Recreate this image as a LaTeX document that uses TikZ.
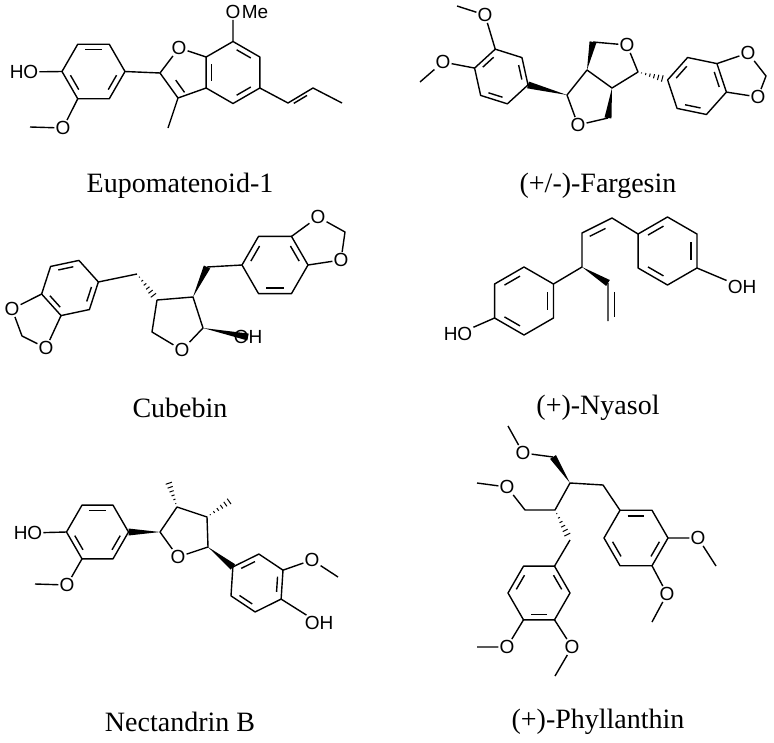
\documentclass[tikz,border=0pt]{standalone}
\usepackage{fontspec}
\setmainfont{Liberation Serif}
\newfontfamily\atomfont{Liberation Sans}
\usetikzlibrary{calc}
\newcommand{\hexring}[5]{%
	\coordinate (#1) at (#2,#3);
	\foreach \k in {1,...,6}{\coordinate (#1-\k) at ($(#2,#3)+({#5+60*(\k-1)}:#4)$);}
	\draw[bond] (#1-1) -- (#1-2) -- (#1-3) -- (#1-4) -- (#1-5) -- (#1-6) -- cycle;}
\newcommand{\dbond}[3]{\draw[bond] ($(#2)!0.17!(#3)!0.2!(#1)$) -- ($(#3)!0.17!(#2)!0.2!(#1)$);}
\newcommand{\wdg}[2]{\fill ($(#2)!3.5pt!90:(#1)$) -- (#1) -- ($(#2)!3.5pt!-90:(#1)$) -- cycle;}
\newcommand{\hsh}[2]{\foreach \t in {0.12,0.26,...,0.95}{%
	\coordinate (h) at ($(#1)!\t!(#2)$);
	\draw[line width=1pt] ($(h)!{4pt*\t}!90:(#2)$) -- ($(h)!{4pt*\t}!-90:(#2)$);}}
\begin{document}
\begin{tikzpicture}[x=1pt,y=-1pt,
	bond/.style={line width=1.4pt,line join=round},
	atom/.style={font=\atomfont\fontsize{19}{19}\selectfont,inner sep=1pt},
	title/.style={font=\fontsize{28}{28}\selectfont}]
\useasboundingbox (0,0) rectangle (774,742);
% Eupomatenoid-1
\hexring{ea}{93.5}{71.5}{31.5}{180}
\dbond{ea}{ea-2}{ea-3} \dbond{ea}{ea-4}{ea-5} \dbond{ea}{ea-6}{ea-1}
\hexring{eb}{233}{72.5}{31}{270}
\dbond{eb}{eb-1}{eb-2} \dbond{eb}{eb-3}{eb-4} \dbond{eb}{eb-5}{eb-6}
\node[atom] (eho) at (24,72) {HO};
\node[atom] (eom) at (63,128) {O};
\node[atom] (eo1) at (179,48) {O};
\node[atom] (eo7) at (233,12) {O};
\node[atom,anchor=west,inner sep=0pt] at (eo7.east) {Me};
\coordinate (ec2) at (160,73);
\coordinate (ec3) at (178,98);
\coordinate (eme) at (168,128);
\coordinate (emeo) at (30,127);
\coordinate (ep1) at (288,103);
\coordinate (ep2) at (313,88);
\coordinate (ep3) at (342,103);
\coordinate (epc) at (300,115);
\draw[bond] (eho) -- (ea-1) (ea-6) -- (eom) -- (emeo) (ea-4) -- (ec2) -- (eo1) -- (eb-6)
	(ec2) -- (ec3) -- (eb-5) (ec3) -- (eme) (eb-1) -- (eo7) (eb-3) -- (ep1) -- (ep2) -- (ep3);
\draw[bond] ($(ec2)!0.15!(ec3)!0.3!(eb-5)$) -- ($(ec3)!0.15!(ec2)!0.3!(eb-5)$);
\dbond{epc}{ep1}{ep2}
\node[title] (eupo) at (180,186) {Eupomatenoid-1};
% (+/-)-Fargesin
\hexring{fa}{501.3}{76.5}{28}{17.5}
\dbond{fa}{fa-5}{fa-4} \dbond{fa}{fa-3}{fa-2} \dbond{fa}{fa-1}{fa-6}
\hexring{fb}{697}{86}{30}{191.7}
\dbond{fb}{fb-1}{fb-2} \dbond{fb}{fb-3}{fb-4} \dbond{fb}{fb-5}{fb-6}
\node[atom] (fo1) at (485,15) {O};
\node[atom] (fo2) at (443,62) {O};
\node[atom] (fot) at (627,45) {O};
\node[atom] (fob) at (578,125) {O};
\node[atom] (fo3) at (748,53) {O};
\node[atom] (fo4) at (758,97) {O};
\coordinate (fm1) at (457,6);
\coordinate (fm2) at (420,82);
\coordinate (fca) at (567,95);
\coordinate (fcb) at (587,70);
\coordinate (fcc) at (612,88);
\coordinate (fcd) at (638,72);
\coordinate (fht) at (593,42);
\coordinate (fhb) at (608,118);
\coordinate (fdx) at (766,76);
\draw[bond] (fa-5) -- (fo1) -- (fm1) (fa-4) -- (fo2) -- (fm2)
	(fca) -- (fcb) -- (fcc) -- (fcd) -- (fot) -- (fht) (fca) -- (fob) -- (fhb)
	(fb-3) -- (fo3) -- (fdx) -- (fo4) -- (fb-4);
\wdg{fca}{fa-1} \wdg{fcb}{fht} \wdg{fcc}{fhb}
\hsh{fcd}{fb-1}
\node[title] (farg) at (598,186) {(+/-)-Fargesin};
% Cubebin
\hexring{ca}{70}{288}{29}{-12}
\dbond{ca}{ca-5}{ca-6} \dbond{ca}{ca-1}{ca-2} \dbond{ca}{ca-3}{ca-4}
\hexring{cb}{275}{265}{33}{180}
\dbond{cb}{cb-1}{cb-2} \dbond{cb}{cb-3}{cb-4} \dbond{cb}{cb-5}{cb-6}
\node[atom] (co1) at (12,309) {O};
\node[atom] (co2) at (46,348) {O};
\node[atom] (co3) at (318,217) {O};
\node[atom] (co4) at (341,260) {O};
\node[atom] (cor) at (182,350) {O};
\node[atom] (coh) at (248,337) {OH};
\coordinate (cx1) at (22,336);
\coordinate (cx2) at (345,232);
\coordinate (cm1) at (137,274);
\coordinate (cm2) at (207,267);
\coordinate (cc4) at (157,300);
\coordinate (cc3) at (193,297);
\coordinate (cc2) at (203,328);
\coordinate (cc5) at (152,332);
\draw[bond] (ca-4) -- (co1) -- (cx1) -- (co2) -- (ca-3) (ca-1) -- (cm1)
	(cc4) -- (cc3) -- (cc2) -- (cor) -- (cc5) -- (cc4) (cm2) -- (cb-1)
	(cb-3) -- (co3) -- (cx2) -- (co4) -- (cb-4);
\hsh{cm1}{cc4}
\wdg{cc3}{cm2} \wdg{cc2}{coh}
\node[title] (cube) at (180,408) {Cubebin};
% (+)-Nyasol
\hexring{na}{667.5}{251}{34}{210}
\dbond{na}{na-1}{na-2} \dbond{na}{na-3}{na-4} \dbond{na}{na-5}{na-6}
\hexring{nb}{524}{301}{34}{-30}
\dbond{nb}{nb-5}{nb-6} \dbond{nb}{nb-1}{nb-2} \dbond{nb}{nb-3}{nb-4}
\node[atom] (noh) at (742,287) {OH};
\node[atom] (nho) at (458,334) {HO};
\coordinate (nv1) at (612,218);
\coordinate (nv2) at (582,233);
\coordinate (nc) at (582,267);
\coordinate (nw1) at (608,283);
\coordinate (nw2) at (608,321);
\coordinate (nvc) at (600,260);
\coordinate (nwc) at (640,302);
\draw[bond] (na-4) -- (noh) (na-1) -- (nv1) -- (nv2) -- (nc) -- (nb-1) (nb-4) -- (nho)
	(nw1) -- (nw2);
\dbond{nvc}{nv1}{nv2}
\draw[bond] ($(nw1)!0.17!(nw2)!0.2!(nwc)$) -- ($(nw2)!0!(nw1)!0.2!(nwc)$);
\wdg{nc}{nw1}
\node[title] (nyas) at (598,408) {(+)-Nyasol};
% Nectandrin B
\hexring{ma}{97.5}{532}{31}{180}
\dbond{ma}{ma-2}{ma-3} \dbond{ma}{ma-4}{ma-5} \dbond{ma}{ma-6}{ma-1}
\hexring{mb}{257}{583}{29}{213.7}
\dbond{mb}{mb-1}{mb-2} \dbond{mb}{mb-3}{mb-4} \dbond{mb}{mb-5}{mb-6}
\node[atom] (mho) at (28,533) {HO};
\node[atom] (mo1) at (67,585) {O};
\node[atom] (mor) at (178,557) {O};
\node[atom] (mo2) at (312,560) {O};
\node[atom] (moh) at (319,623) {OH};
\coordinate (mm1) at (35,584);
\coordinate (mm2) at (338,577);
\coordinate (mc2) at (160,532);
\coordinate (mc3) at (177,507);
\coordinate (mc4) at (207,517);
\coordinate (mc5) at (208,547);
\coordinate (mx3) at (167,478);
\coordinate (mx4) at (234,498);
\draw[bond] (mho) -- (ma-1) (ma-6) -- (mo1) -- (mm1)
	(mc2) -- (mc3) -- (mc4) -- (mc5) -- (mor) -- (mc2)
	(mb-3) -- (mo2) -- (mm2) (mb-4) -- (moh);
\wdg{mc2}{ma-4} \wdg{mc5}{mb-1}
\hsh{mc3}{mx3} \hsh{mc4}{mx4}
\node[title] (nect) at (180,722) {Nectandrin B};
% (+)-Phyllanthin
\hexring{pa}{636}{538}{32}{240}
\dbond{pa}{pa-1}{pa-2} \dbond{pa}{pa-3}{pa-4} \dbond{pa}{pa-5}{pa-6}
\hexring{pb}{539}{593}{31}{300}
\dbond{pb}{pb-1}{pb-2} \dbond{pb}{pb-3}{pb-4} \dbond{pb}{pb-5}{pb-6}
\node[atom] (po1) at (523,453) {O};
\node[atom] (po2) at (507,487) {O};
\node[atom] (po3) at (698,538) {O};
\node[atom] (po4) at (667,594) {O};
\node[atom] (po5) at (572,647) {O};
\node[atom] (po6) at (507,647) {O};
\coordinate (pm1) at (508,426);
\coordinate (pm2) at (477,483);
\coordinate (pm3) at (716,566);
\coordinate (pm4) at (652,622);
\coordinate (pm5) at (555,676);
\coordinate (pm6) at (477,647);
\coordinate (ph1) at (553,457);
\coordinate (pca) at (570,483);
\coordinate (ph2) at (603,485);
\coordinate (pcb) at (555,510);
\coordinate (ph3) at (525,510);
\coordinate (ph4) at (570,540);
\draw[bond] (pm1) -- (po1) -- (ph1) (pca) -- (ph2) -- (pa-1) (pca) -- (pcb) -- (ph3) -- (po2) -- (pm2)
	(ph4) -- (pb-1) (pa-3) -- (po3) -- (pm3) (pa-4) -- (po4) -- (pm4)
	(pb-3) -- (po5) -- (pm5) (pb-4) -- (po6) -- (pm6);
\wdg{pca}{ph1}
\hsh{pcb}{ph4}
\node[title] (phyl) at (598,722) {(+)-Phyllanthin};
\end{tikzpicture}
\end{document}
